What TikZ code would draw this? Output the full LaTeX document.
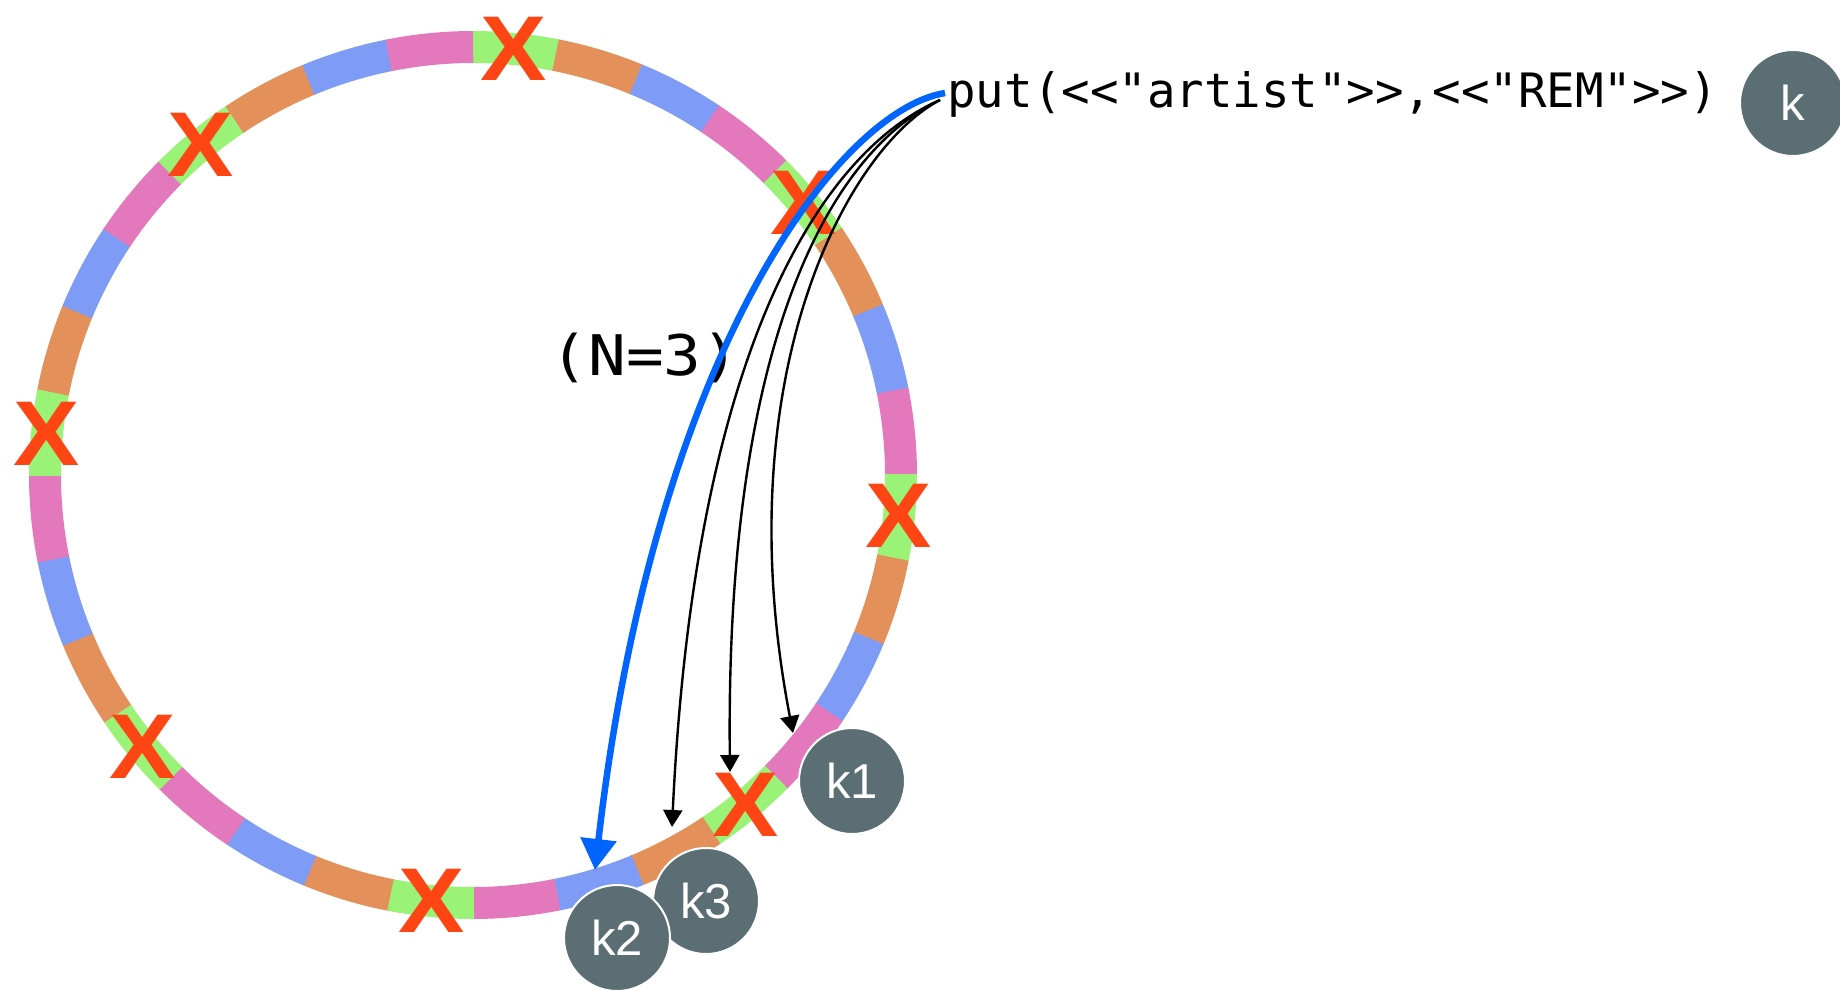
\documentclass[tikz,border=0pt]{standalone}
\usepackage{fontspec}
\setmainfont{Liberation Sans}
\setmonofont{DejaVu Sans Mono}
\usetikzlibrary{arrows.meta}
\definecolor{seg0}{HTML}{9AF276}
\definecolor{seg1}{HTML}{E4905A}
\definecolor{seg2}{HTML}{7E9CF5}
\definecolor{seg3}{HTML}{E478BC}
\definecolor{xred}{HTML}{FF4514}
\definecolor{kfill}{HTML}{5A6E74}
\definecolor{arrblue}{HTML}{0064FF}
\begin{document}
\begin{tikzpicture}[x=0.5pt,y=-0.5pt,
  knode/.style={circle, fill=kfill, draw=white, line width=1pt, minimum size=53pt, inner sep=0pt, text=white, font=\fontsize{24.5}{24.5}\selectfont},
  xmark/.style={text=xred, inner sep=0pt, xscale=1.08, font=\bfseries\fontsize{46}{46}\selectfont},
  blk/.style={draw=black, line width=1.2pt, -{Triangle[width=9.5pt,length=8.5pt]}},
  blu/.style={draw=arrblue, line width=3.25pt, -{Triangle[width=17.5pt,length=15.5pt]}},
  ringseg/.style={line width=16pt}
]
\useasboundingbox (0,0) rectangle (1840,990);
\fill[white] (0,0) rectangle (1840,990);
% ring
\coordinate (c) at (473,475);
\foreach \i in {0,...,31}{
  \pgfmathtruncatemacro\m{mod(\i,4)}
  \pgfmathsetmacro\a{-84.5-5.625+\i*11.25}
  \draw[ringseg, color=seg\m] (c) ++(\a:428) arc[start angle=\a, end angle=\a+11.4, radius=428];
}
% X marks
\foreach \k in {0,...,7}{
  \pgfmathsetmacro\b{-84.5+\k*45}
  \path (c) ++(\b:428) node[xmark] (x\k) {X};
}
% texts
\node[font=\ttfamily\fontsize{23.7}{23.7}\selectfont, anchor=base west, inner sep=0pt] (put) at (947,108) {put(<<"artist">>,<<"REM">>)};
\node[font=\ttfamily\fontsize{28}{28}\selectfont, xscale=1.12, anchor=base, inner sep=0pt] (n3) at (645,375) {(N=3)};
% arrows
\coordinate (sb) at (945,93);
\coordinate (sk) at (940,100);
\coordinate (t2) at (595,870);
\coordinate (ta) at (672,827);
\coordinate (tb) at (730,772);
\coordinate (tc) at (793,733);
\draw[blk] (sk) .. controls (825,150) and (695,340) .. (ta);
\draw[blk] (sk) .. controls (835,150) and (725,330) .. (tb);
\draw[blk] (sk) .. controls (845,150) and (725,380) .. (tc);
\draw[blu] (sb) .. controls (840,110) and (655,350) .. (t2);
% key nodes
\node[knode] (k) at (1793,103) {k};
\node[knode] (k1) at (852,781) {k1};
\node[knode] (k3) at (706,901) {k3};
\node[knode] (k2) at (617,938) {k2};
\end{tikzpicture}
\end{document}
